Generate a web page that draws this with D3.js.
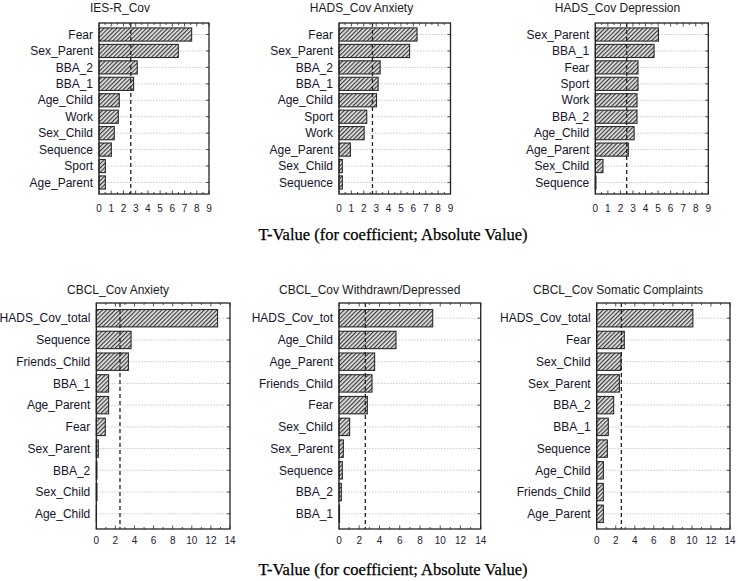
<html>
<head>
<meta http-equiv="content-type" content="text/html" charset="utf-8" />
<script src="https://cdnjs.cloudflare.com/ajax/libs/d3/7.8.5/d3.min.js"></script>
<style>
  body { margin: 0; background: #fff; }
  svg text { font-family: "Liberation Sans", Arial, sans-serif; }
</style>
</head>
<body>
<div id="chart"></div>
<script>

// ---- data (t-values, absolute) ----
var iesCats = ["Fear", "Sex_Parent", "BBA_2", "BBA_1", "Age_Child", "Work", "Sex_Child", "Sequence", "Sport", "Age_Parent"];
var iesVals = [7.58, 6.49, 3.13, 2.83, 1.66, 1.58, 1.25, 1.01, 0.52, 0.52];

var hadsAnxCats = ["Fear", "Sex_Parent", "BBA_2", "BBA_1", "Age_Child", "Sport", "Work", "Age_Parent", "Sex_Child", "Sequence"];
var hadsAnxVals = [6.3, 5.7, 3.32, 3.16, 3.03, 2.24, 2.03, 0.92, 0.27, 0.27];

var hadsDepCats = ["Sex_Parent", "BBA_1", "Fear", "Sport", "Work", "BBA_2", "Age_Child", "Age_Parent", "Sex_Child", "Sequence"];
var hadsDepVals = [5.03, 4.68, 3.4, 3.4, 3.32, 3.32, 3.09, 2.63, 0.61, 0.05];

var cbclAnxCats = ["HADS_Cov_total", "Sequence", "Friends_Child", "BBA_1", "Age_Parent", "Fear", "Sex_Parent", "BBA_2", "Sex_Child", "Age_Child"];
var cbclAnxVals = [12.7, 3.64, 3.36, 1.29, 1.29, 0.94, 0.21, 0.07, 0.07, 0.02];

var cbclWdCats = ["HADS_Cov_tot", "Age_Child", "Age_Parent", "Friends_Child", "Fear", "Sex_Child", "Sex_Parent", "Sequence", "BBA_2", "BBA_1"];
var cbclWdVals = [9.26, 5.63, 3.52, 3.26, 2.8, 1.05, 0.43, 0.33, 0.23, 0.05];

var cbclSomCats = ["HADS_Cov_total", "Fear", "Sex_Child", "Sex_Parent", "BBA_2", "BBA_1", "Sequence", "Age_Child", "Friends_Child", "Age_Parent"];
var cbclSomVals = [10.1, 2.9, 2.55, 2.38, 1.78, 1.22, 1.12, 0.7, 0.7, 0.7];

var titles = ["IES-R_Cov", "HADS_Cov Anxiety", "HADS_Cov Depression",
              "CBCL_Cov Anxiety", "CBCL_Cov Withdrawn/Depressed", "CBCL_Cov Somatic Complaints"];
var critVals = [2.6, 2.7, 2.5, 2.48, 2.6, 2.59];
var axisMax = [9, 9, 9, 14, 14, 14];
var xTitle = "T-Value (for coefficient; Absolute Value)";

// ---- layout ----
var W = 738, H = 581;
var layout = [
  { x0: 99,    x1: 209,   y0: 23,  y1: 194, tx: 120,   ty: 12,  lab: 212 },
  { x0: 339,   x1: 450.5, y0: 23,  y1: 194, tx: 361.5, ty: 12,  lab: 212 },
  { x0: 595.3, x1: 708.3, y0: 23,  y1: 194, tx: 617.5, ty: 12,  lab: 212 },
  { x0: 96.3,  x1: 230,   y0: 303, y1: 529, tx: 118,   ty: 294, lab: 543.5 },
  { x0: 339,   x1: 480.7, y0: 303, y1: 529, tx: 369.7, ty: 294, lab: 543.5 },
  { x0: 596.7, x1: 730,   y0: 303, y1: 529, tx: 618,   ty: 294, lab: 543.5 }
];

var svg = d3.select("#chart").append("svg")
  .attr("width", W).attr("height", H);

var pat = svg.append("defs").append("pattern")
  .attr("id", "hatch")
  .attr("patternUnits", "userSpaceOnUse")
  .attr("width", 3).attr("height", 3)
  .attr("patternTransform", "rotate(45)");
pat.append("rect").attr("width", 3).attr("height", 3).attr("fill", "#e6e6e6");
pat.append("line")
  .attr("x1", 0.6).attr("y1", 0).attr("x2", 0.6).attr("y2", 3)
  .attr("stroke", "#3a3a3a").attr("stroke-width", 1.2);

var allCats = [iesCats, hadsAnxCats, hadsDepCats, cbclAnxCats, cbclWdCats, cbclSomCats];
var allVals = [iesVals, hadsAnxVals, hadsDepVals, cbclAnxVals, cbclWdVals, cbclSomVals];

allCats.forEach(function(cats, i){
  var L = layout[i];
  var vals = allVals[i];
  var g = svg.append("g");

  var x = d3.scaleLinear().domain([0, axisMax[i]]).range([L.x0, L.x1]);
  var y = d3.scaleBand().domain(cats).range([L.y0, L.y1]).paddingInner(0.2).paddingOuter(0.3);

  // title
  g.append("text")
    .attr("x", L.tx).attr("y", L.ty)
    .attr("text-anchor", "middle")
    .attr("font-size", 12).attr("fill", "#1a1a1a")
    .text(titles[i]);

  // horizontal dotted grid
  g.selectAll(".grid").data(cats).enter().append("line")
    .attr("x1", L.x0).attr("x2", L.x1)
    .attr("y1", function(d){ return y(d) + y.bandwidth()/2; })
    .attr("y2", function(d){ return y(d) + y.bandwidth()/2; })
    .attr("stroke", "#bbb").attr("stroke-width", 0.8)
    .attr("stroke-dasharray", "1.5,1.5");

  // bars
  g.selectAll(".bar").data(vals).enter().append("rect")
    .attr("x", x(0))
    .attr("y", function(d, j){ return y(cats[j]); })
    .attr("width", function(d){ return x(d) - x(0); })
    .attr("height", y.bandwidth())
    .attr("fill", "url(#hatch)")
    .attr("stroke", "#2a2a2a").attr("stroke-width", 1.1);

  // critical value line
  g.append("line")
    .attr("x1", x(critVals[i])).attr("x2", x(critVals[i]))
    .attr("y1", L.y0).attr("y2", L.y1)
    .attr("stroke", "#222").attr("stroke-width", 1.3)
    .attr("stroke-dasharray", "4,3");

  // category labels
  g.selectAll(".cat").data(cats).enter().append("text")
    .attr("x", L.x0 - 6)
    .attr("y", function(d){ return y(d) + y.bandwidth()/2; })
    .attr("dy", "0.35em")
    .attr("text-anchor", "end")
    .attr("font-size", 12).attr("fill", "#14142a")
    .text(function(d){ return d; });

  // frame
  g.append("rect")
    .attr("x", L.x0).attr("y", L.y0)
    .attr("width", L.x1 - L.x0).attr("height", L.y1 - L.y0)
    .attr("fill", "none").attr("stroke", "#222").attr("stroke-width", 1.3);

  // inward ticks on top and bottom edges
  var major = axisMax[i] == 9 ? d3.range(0, 10, 1) : d3.range(0, 15, 2);
  var minor = axisMax[i] == 9 ? d3.range(0.5, 9, 1) : d3.range(1, 14, 2);
  [[major, 3.5], [minor, 2]].forEach(function(tk){
    tk[0].forEach(function(v){
      g.append("line").attr("x1", x(v)).attr("x2", x(v))
        .attr("y1", L.y1).attr("y2", L.y1 - tk[1])
        .attr("stroke", "#222").attr("stroke-width", 0.8);
      g.append("line").attr("x1", x(v)).attr("x2", x(v))
        .attr("y1", L.y0).attr("y2", L.y0 + tk[1])
        .attr("stroke", "#222").attr("stroke-width", 0.8);
    });
  });

  // inward ticks on right edge at categories
  g.selectAll(".rt").data(cats).enter().append("line")
    .attr("x1", L.x1).attr("x2", L.x1 - 3)
    .attr("y1", function(d){ return y(d) + y.bandwidth()/2; })
    .attr("y2", function(d){ return y(d) + y.bandwidth()/2; })
    .attr("stroke", "#222").attr("stroke-width", 0.8);

  // tick labels
  g.selectAll(".tl").data(major).enter().append("text")
    .attr("x", function(d){ return x(d); })
    .attr("y", L.lab)
    .attr("text-anchor", "middle")
    .attr("font-size", 10).attr("fill", "#1a1a33")
    .text(function(d){ return d; });
});

// shared axis titles
[240, 575].forEach(function(yy){
  svg.append("text")
    .attr("x", 393).attr("y", yy)
    .attr("text-anchor", "middle")
    .style("font-family", "'Liberation Serif', serif")
    .attr("font-size", 16.5).attr("fill", "#000")
    .attr("stroke", "#000").attr("stroke-width", 0.25)
    .text(xTitle);
});

</script>
</body>
</html>
